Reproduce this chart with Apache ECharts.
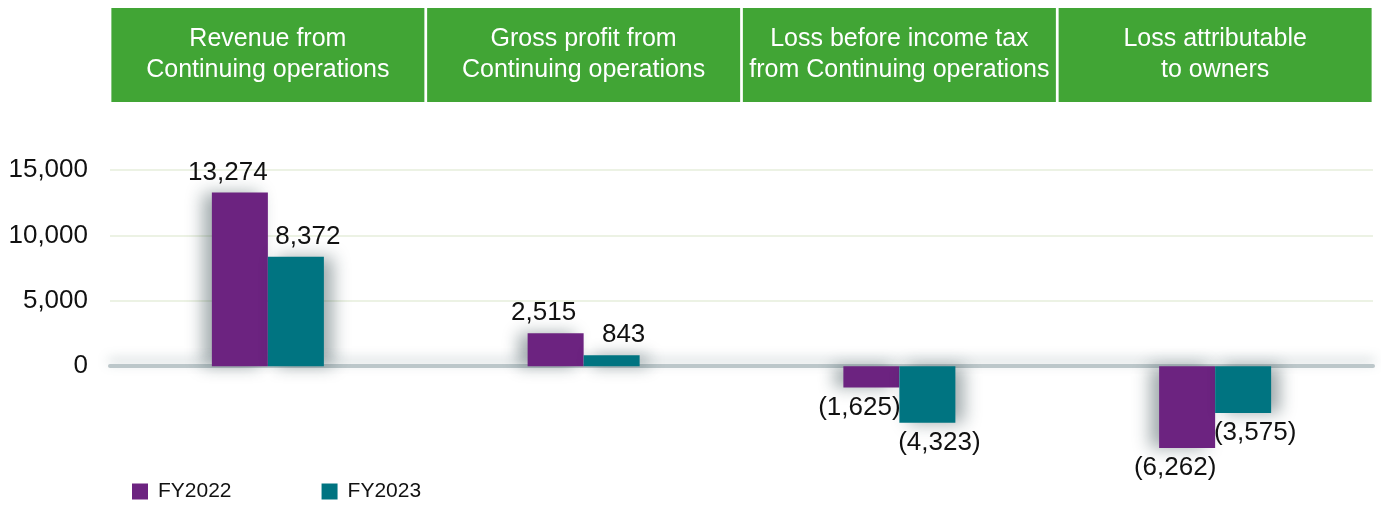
<!DOCTYPE html>
<html>
<head>
<meta charset="utf-8">
<script src="https://cdn.jsdelivr.net/npm/echarts@6/dist/echarts.min.js"></script>
<style>
  html, body { margin: 0; padding: 0; background: #fff; }
  #chart { width: 1381px; height: 525px; }
</style>
</head>
<body>
<div id="chart"></div>
<script>
// data
const categories = [
  "Revenue from\nContinuing operations",
  "Gross profit from\nContinuing operations",
  "Loss before income tax\nfrom Continuing operations",
  "Loss attributable\nto owners"
];
const fy2022 = [13274, 2515, -1625, -6262];
const fy2023 = [8372, 843, -4323, -3575];
const seriesNames = ["FY2022", "FY2023"];

const FONT = "'Liberation Sans', Arial, Helvetica, sans-serif";

function fmt(v) {
  const s = Math.abs(v).toLocaleString("en-US");
  return v < 0 ? "(" + s + ")" : s;
}

// labels go above positive bars, below negative ones
function toItems(values) {
  return values.map(function(v) {
    return { value: v, label: { position: v < 0 ? "bottom" : "top" } };
  });
}

function barSeries(name, values, color, side) {
  return {
    name: name,
    type: "bar",
    xAxisIndex: 0,
    barWidth: 56,
    barGap: "0%",
    data: toItems(values),
    itemStyle: {
      color: color,
      shadowColor: "rgba(20,45,50,0.4)",
      shadowBlur: 16,
      shadowOffsetX: side * 9
    },
    label: {
      show: true,
      distance: 7,
      offset: [side * 12, 0],
      color: "#111",
      fontSize: 26,
      fontFamily: FONT,
      formatter: function(p) { return fmt(p.value); }
    }
  };
}

const chart = echarts.init(document.getElementById("chart"));

const option = {
  animation: false,
  textStyle: { fontFamily: FONT },
  grid: { left: 110, right: 8, top: 170, bottom: 28 },
  legend: {
    left: 132,
    top: 481,
    padding: 0,
    icon: "rect",
    itemWidth: 16,
    itemHeight: 16,
    itemGap: 90,
    textStyle: { fontSize: 21, color: "#111", fontFamily: FONT, padding: [0, 0, 0, 5] },
    data: seriesNames
  },
  xAxis: [
    {
      type: "category",
      data: categories,
      axisLine: {
        onZero: true,
        lineStyle: {
          color: "#bcc7ca",
          width: 4,
          shadowColor: "rgba(90,115,120,0.4)",
          shadowBlur: 12,
          shadowOffsetY: -5
        }
      },
      axisTick: { show: false },
      axisLabel: { show: false }
    },
    {
      type: "category",
      position: "top",
      data: categories,
      axisLine: { show: false },
      axisTick: { show: false },
      axisLabel: {
        interval: 0,
        margin: 68,
        color: "#fff",
        fontSize: 25,
        lineHeight: 31,
        fontFamily: FONT,
        backgroundColor: "#41a535",
        width: 313,
        padding: [16, 0, 16, 0],
        align: "center"
      }
    }
  ],
  yAxis: {
    type: "value",
    min: -10000,
    max: 15000,
    interval: 5000,
    axisLine: { show: false },
    axisTick: { show: false },
    axisLabel: {
      margin: 22,
      color: "#111",
      fontSize: 26,
      fontFamily: FONT,
      formatter: function(v) { return v < 0 ? "" : v.toLocaleString("en-US"); }
    },
    splitLine: {
      show: true,
      lineStyle: {
        width: 2,
        color: ["rgba(0,0,0,0)", "rgba(0,0,0,0)", "rgba(0,0,0,0)", "#ecf2e4", "#ecf2e4", "#ecf2e4"]
      }
    }
  },
  series: [
    barSeries(seriesNames[0], fy2022, "#6c2380", -1),
    barSeries(seriesNames[1], fy2023, "#007481", 1)
  ]
};

chart.setOption(option);
</script>
</body>
</html>
